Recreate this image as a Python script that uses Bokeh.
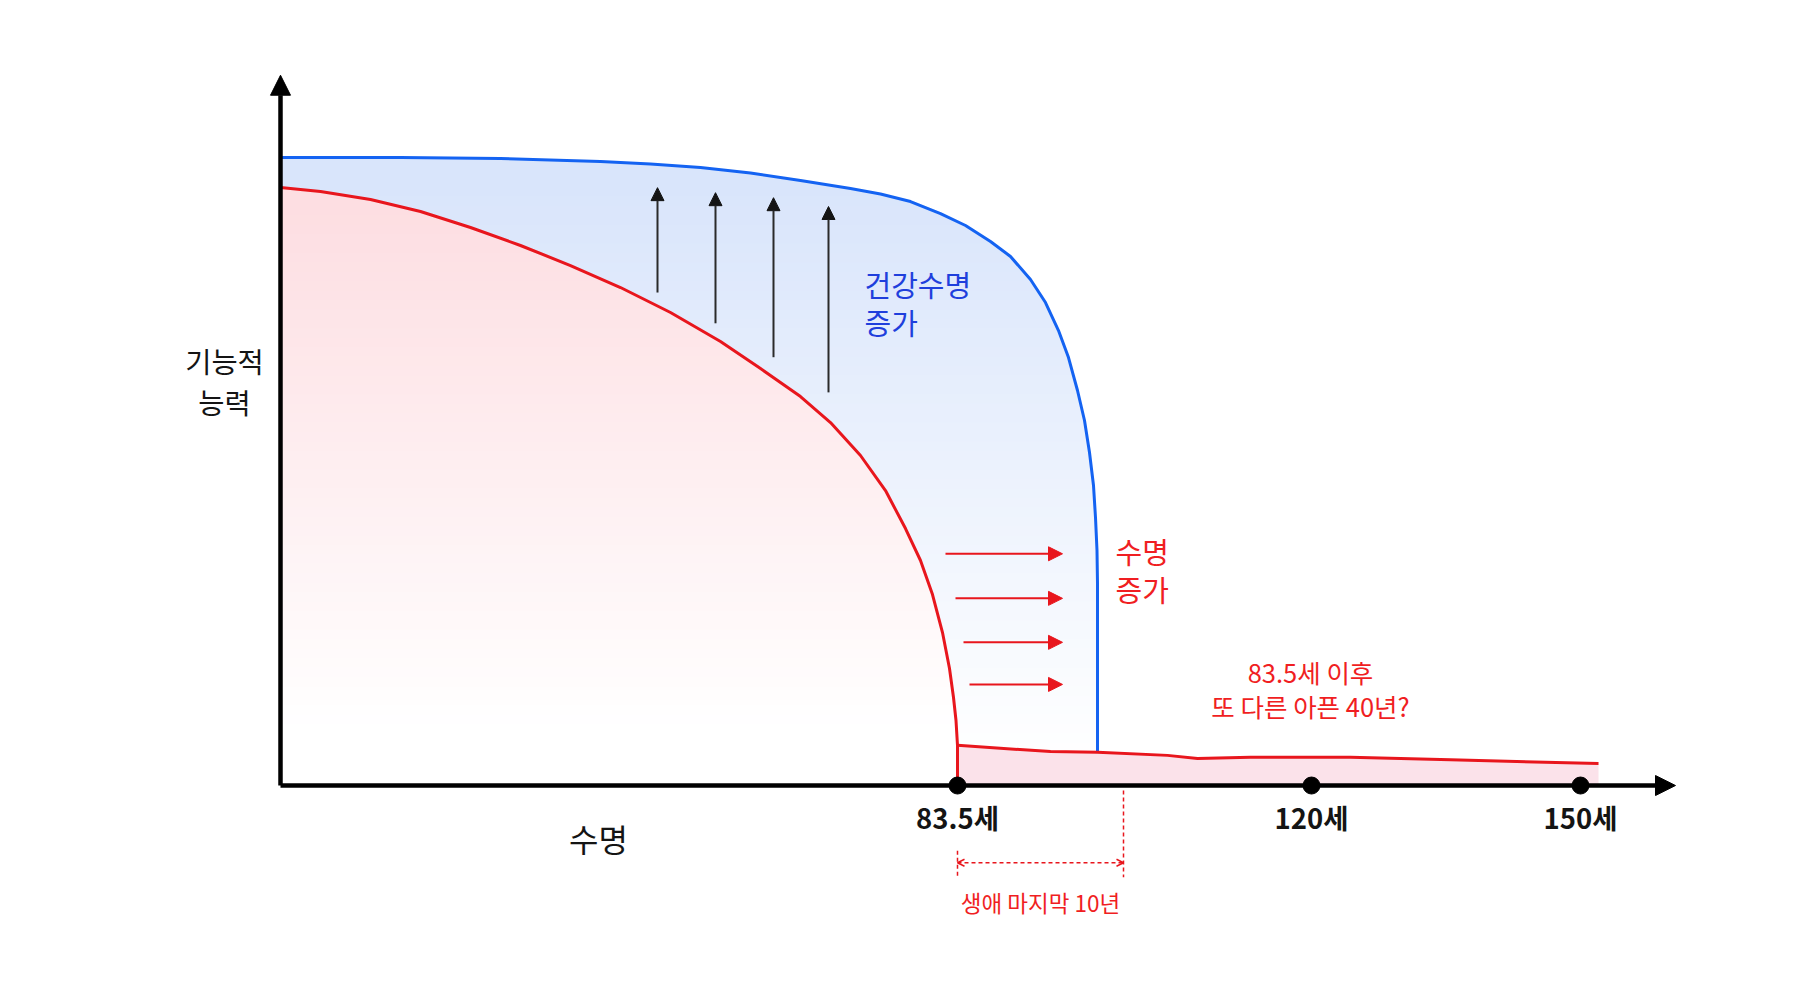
from bokeh.plotting import figure
from bokeh.models import Arrow, NormalHead, OpenHead, Range1d
from bokeh.core.properties import value
from bokeh.embed import file_html
from bokeh.resources import INLINE

# ---------------- data (chart units: x = position along the lifespan axis, y = functional ability) -------------
blue_x = [0, 12, 22, 32, 37, 42, 47, 52, 57, 60, 63, 66, 68.5, 71, 73, 75, 76.5, 77.8, 78.8, 79.7,
          80.4, 80.9, 81.3, 81.5, 81.65, 81.7, 81.7]
blue_y = [100.0, 100.0, 99.84, 99.36, 98.96, 98.41, 97.53, 96.34, 95.06, 94.19, 92.99, 91.08, 89.17,
          86.62, 84.24, 80.57, 76.91, 72.45, 68.15, 62.90, 58.12, 53.03, 47.77, 42.68, 37.42, 32.17, 5.25]

red_x = [0, 4, 9, 14, 19, 24, 29, 34, 39, 44, 48, 52, 55, 58, 60.5, 62.5, 64, 65.2, 66.2, 66.9, 67.3,
         67.55, 67.7, 67.7]
red_y = [95.22, 94.59, 93.31, 91.40, 88.85, 85.99, 82.80, 79.30, 75.32, 70.70, 66.40, 61.94, 57.80,
         52.55, 46.97, 40.92, 35.83, 30.41, 24.36, 18.63, 14.01, 10.35, 6.37, 0.0]

tail_x = [67.7, 77, 81.7, 88.7, 91.7, 97, 107, 117, 131.8]
tail_y = [6.4, 5.4, 5.3, 4.8, 4.3, 4.5, 4.5, 4.1, 3.5]

tick_x = [67.7, 103.1, 130.0]
tick_labels = ["83.5세", "120세", "150세"]

up_arrow_x = [37.7, 43.5, 49.3, 54.8]
up_arrow_y0 = [78.5, 73.6, 68.2, 62.6]
up_arrow_y1 = [95.2, 94.4, 93.6, 92.2]

right_arrow_x0 = [66.5, 67.5, 68.3, 68.9]
right_arrow_x1 = [78.2, 78.2, 78.2, 78.2]
right_arrow_y = [36.9, 29.8, 22.8, 16.1]

last_decade = [67.7, 84.3]

# ---------------- styles ----------------
FONT = "Noto Sans CJK KR"
BLUE = "#1463f2"
RED = "#e8161d"
BLUE_TXT = "#1f3fdc"
RED_TXT = "#f01e22"
INK = "#141414"

p = figure(width=1815, height=989, x_range=Range1d(-28, 153.5), y_range=Range1d(-32.48, 125.0),
           x_axis_type=None, y_axis_type=None, toolbar_location=None, output_backend="svg",
           min_border=0, outline_line_color=None, background_fill_color="white",
           border_fill_color="white")


def clip(poly, a, keep_above):
    out = []
    n = len(poly)
    for i in range(n):
        P = poly[i]
        Q = poly[(i + 1) % n]
        inP = P[1] >= a if keep_above else P[1] <= a
        inQ = Q[1] >= a if keep_above else Q[1] <= a
        if inP:
            out.append(P)
        if inP != inQ:
            t = (a - P[1]) / (Q[1] - P[1])
            out.append((P[0] + t * (Q[0] - P[0]), a))
    return out


def gradient_bands(xs, ys, top_rgb, y_full, y_white, step=1.5):
    poly = list(zip(xs, ys)) + [(xs[-1], 0.0), (xs[0], 0.0)]
    bx, by, bc = [], [], []
    ymax = max(ys)
    lev = 0.0
    while lev < ymax + step:
        y0, y1 = lev, lev + step
        c = clip(clip(poly, y0 - 0.7 if lev > 0 else y0, True), y1, False)
        if len(c) >= 3:
            yc = (y0 + y1) / 2
            t = min(max((yc - y_white) / (y_full - y_white), 0.0), 1.0)
            rgb = tuple(int(round(255 + t * (v - 255))) for v in top_rgb)
            bx.append([q[0] for q in c])
            by.append([q[1] for q in c])
            bc.append("#%02x%02x%02x" % rgb)
        lev += step
    return bx, by, bc


bx, by, bc = gradient_bands(blue_x, blue_y, (217, 229, 251), 96, 4)
p.patches(xs=bx, ys=by, fill_color=bc, line_color=None)
rx, ry, rc = gradient_bands(red_x, red_y, (253, 222, 226), 92, 10)
p.patches(xs=rx, ys=ry, fill_color=rc, line_color=None)

# pink tail area after 83.5
p.patch(x=tail_x + [tail_x[-1], tail_x[0]], y=tail_y + [0, 0], fill_color="#fbe2ea", line_color=None)

# curves
p.line(blue_x, blue_y, line_color=BLUE, line_width=3, line_join="round")
p.line(red_x, red_y, line_color=RED, line_width=3, line_join="round")
p.line(tail_x, tail_y, line_color=RED, line_width=3, line_join="round")

# up arrows (healthy lifespan increase)
for x, y0, y1 in zip(up_arrow_x, up_arrow_y0, up_arrow_y1):
    p.add_layout(Arrow(end=NormalHead(size=13, fill_color=INK, line_color=INK, line_width=1),
                       x_start=x, y_start=y0, x_end=x, y_end=y1, line_color="#2a2a2a", line_width=2))

# right arrows (lifespan increase)
for x0, x1, y in zip(right_arrow_x0, right_arrow_x1, right_arrow_y):
    p.add_layout(Arrow(end=NormalHead(size=14, fill_color=RED, line_color=RED, line_width=1),
                       x_start=x0, y_start=y, x_end=x1, y_end=y, line_color=RED, line_width=2))

# axes with arrows
p.add_layout(Arrow(end=NormalHead(size=20, fill_color="black", line_color="black", line_width=1),
                   x_start=0, y_start=0, x_end=139.5, y_end=0, line_color="black", line_width=4.5))
p.add_layout(Arrow(end=NormalHead(size=20, fill_color="black", line_color="black", line_width=1),
                   x_start=0, y_start=0, x_end=0, y_end=113.1, line_color="black", line_width=4.5))

# dashed 10-year marker
p.segment(x0=[last_decade[1], last_decade[0]], y0=[-0.8, -10.4], x1=[last_decade[1], last_decade[0]],
          y1=[-14.6, -14.6], line_color=RED, line_width=1.5, line_dash="4 3")
p.add_layout(Arrow(start=OpenHead(size=7, line_color=RED, line_width=1.5),
                   end=OpenHead(size=7, line_color=RED, line_width=1.5),
                   x_start=last_decade[0], y_start=-12.3, x_end=last_decade[1], y_end=-12.3,
                   line_color=RED, line_width=1.5, line_dash="4 3"))

# tick dots and labels
p.scatter(tick_x, [0] * len(tick_x), size=17, color="black")
p.text(x=tick_x, y=[-5.0] * len(tick_x), text=tick_labels, text_font=value(FONT), text_font_size="27.5px",
       text_color=INK, text_align="center", text_baseline="middle", text_font_style="bold")


def label(x, y, txt, color, size, align="left", style="normal"):
    p.text(x=[x], y=[y], text=[txt], text_font=value(FONT), text_font_size=size, text_color=color,
           text_align=align, text_baseline="middle", text_font_style=style)


label(-5.6, 67.6, "기능적", INK, "28.5px", "center")
label(-5.6, 61.2, "능력", INK, "28.5px", "center")
label(31.8, -8.3, "수명", INK, "32px", "center")
label(58.4, 79.8, "건강수명", BLUE_TXT, "29px")
label(58.4, 73.8, "증가", BLUE_TXT, "29px")
label(83.5, 37.3, "수명", RED_TXT, "29px")
label(83.5, 31.3, "증가", RED_TXT, "29px")
label(103.0, 18.1, "83.5세 이후", RED_TXT, "25.5px", "center")
label(103.0, 12.8, "또 다른 아픈 40년?", RED_TXT, "25.5px", "center")
label(76.0, -18.5, "생애 마지막 10년", RED_TXT, "22.5px", "center")

open("out.html", "w").write(file_html(p, INLINE))
